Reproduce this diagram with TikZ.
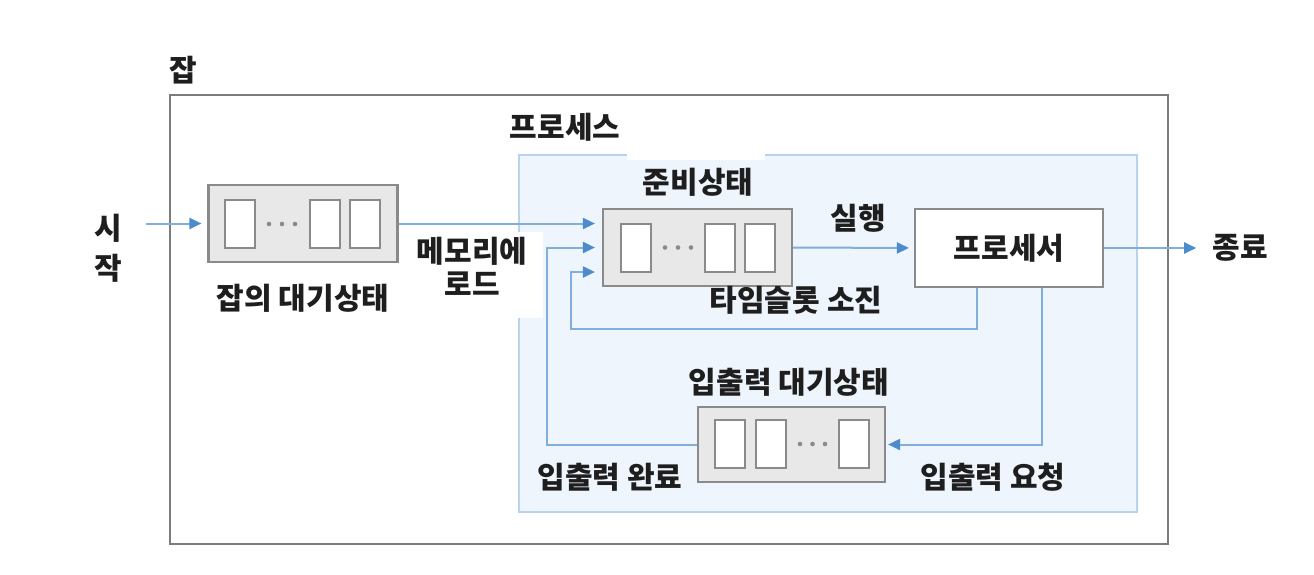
\documentclass[tikz,border=0pt]{standalone}
\usepackage{fontspec}
\newfontfamily\kr{Noto Sans CJK KR}
\usetikzlibrary{arrows.meta,calc}
\definecolor{flowblue}{HTML}{82AEDC}
\definecolor{tipblue}{HTML}{4C8BCC}
\definecolor{procfill}{HTML}{EEF5FC}
\definecolor{procline}{HTML}{B7D3EE}
\definecolor{qfill}{HTML}{E8E8E8}
\definecolor{qline}{HTML}{8A8A8A}
\definecolor{jobline}{HTML}{7C7C7C}
\definecolor{txt}{HTML}{1E1E1E}
\begin{document}
\begin{tikzpicture}[x=1pt,y=-1pt,
  lbl/.style={font=\kr\bfseries\fontsize{30pt}{34pt}\selectfont, text=txt, inner sep=0pt},
  queue/.style={draw=qline, line width=2.2pt, fill=qfill, minimum width=189pt, minimum height=77pt, inner sep=0pt},
  slot/.style={draw=qline, line width=2pt, fill=white, minimum width=30pt, minimum height=48pt, inner sep=0pt},
  procbox/.style={draw=qline, line width=2.2pt, fill=white, minimum width=188pt, minimum height=78pt, inner sep=0pt},
  flow/.style={draw=flowblue, line width=2pt, -{Triangle[length=12pt,width=11pt,color=tipblue]}}
]
\useasboundingbox (0,0) rectangle (1314,574);
\fill[white] (0,0) rectangle (1314,574);
% job frame
\node[draw=jobline, line width=2.5pt, minimum width=998pt, minimum height=449pt, inner sep=0pt] (job) at (669,319.5) {};
\node[lbl] (jobT) at (183,70) {잡};
% process frame
\node[draw=procline, fill=procfill, line width=2pt, minimum width=618pt, minimum height=357pt, inner sep=0pt] (process) at (828,333.5) {};
\fill[white] (627,151) rectangle (765,159.5);
\fill[white] (405,232) rectangle (543,318);
\node[lbl] (procT) at (565,127) {프로세스};

% job waiting queue
\node[queue] (jobq) at (303,223.5) {};
\node[slot] (js1) at (240,224) {};
\node[slot] (js2) at (324.5,224) {};
\node[slot] (js3) at (364.5,224) {};
\foreach \x in {269,282,295} \fill[qline] (\x,224) circle (2.3pt);
\node[lbl] (jobqL) at (303,298) {잡의 대기상태};

% ready queue
\node[queue] (readyq) at (697.5,247.5) {};
\node[slot] (rs1) at (636,247.5) {};
\node[slot] (rs2) at (719.5,247.5) {};
\node[slot] (rs3) at (760,247.5) {};
\foreach \x in {665,678,691} \fill[qline] (\x,247.5) circle (2.3pt);
\node[lbl] (readyL) at (698,182) {준비상태};

% processor
\node[procbox, font=\kr\bfseries\fontsize{30pt}{34pt}\selectfont, text=txt] (proc) at (1009,248) {프로세서};

% io queue
\node[queue, minimum width=187pt, minimum height=75pt] (ioq) at (791.5,444.5) {};
\node[slot] (is1) at (730,444) {};
\node[slot] (is2) at (771,444) {};
\node[slot] (is3) at (854,444) {};
\foreach \x in {800,812.5,825} \fill[qline] (\x,444) circle (2.3pt);
\node[lbl] (ioL) at (789,382) {입출력 대기상태};

% labels
\node[lbl] (runL) at (858,218) {실행};
\node[lbl] (tsL) at (796,300) {타임슬롯 소진};
\node[lbl, align=center, font=\kr\bfseries\fontsize{30pt}{33pt}\selectfont] (memL) at (472,266) {메모리에\\로드};
\node[lbl] (ioDoneL) at (610,477) {입출력 완료};
\node[lbl] (ioReqL) at (993,477) {입출력 요청};
\node[lbl] (endL) at (1240,248) {종료};
\node[lbl, align=center, font=\kr\bfseries\fontsize{30pt}{40pt}\selectfont] (startL) at (108,248) {시\\작};

% connectors
\draw[flow, shorten <=24pt, shorten >=6pt] (startL.east |- jobq.west) -- (jobq.west);
\draw[flow, shorten >=7pt] (jobq.east) -- (jobq.east -| readyq.west);
\draw[flow, shorten >=7pt] (ioq.west) -| ($(readyq.west)+(-55,0)$) -- (readyq.west);
\coordinate (tsOut) at ($(proc.south west)!0.33!(proc.south east)$);
\draw[flow, shorten >=7pt] (tsOut) |- ($(readyq.west)+(-31,81)$) |- ($(readyq.west)+(0,24.5)$);
\draw[flow, shorten >=5pt] (readyq.east) -- (proc.west);
\draw[flow, shorten >=16pt] (proc.east) -- (endL.west);
\coordinate (ioOut) at ($(proc.south west)!0.675!(proc.south east)$);
\draw[flow, shorten >=2pt] (ioOut) |- (ioq.east);
\end{tikzpicture}
\end{document}
